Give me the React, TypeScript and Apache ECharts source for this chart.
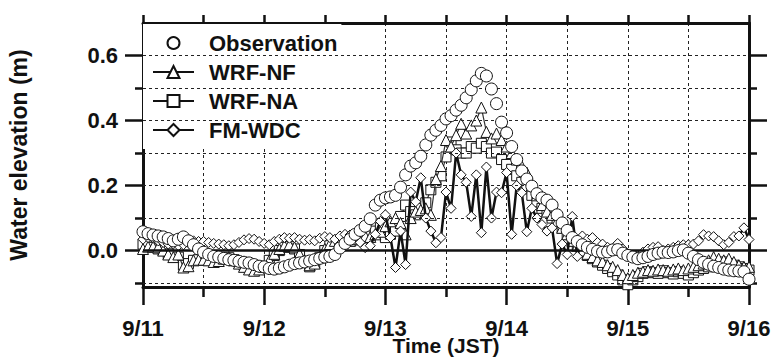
import React, { useEffect, useRef } from "react";
import * as echarts from "echarts";

// Hourly values from 9/11 00:00 (hour 0) to 9/16 00:00 (hour 120)
const observation = [
  0.058, 0.052, 0.048, 0.045, 0.042, 0.037, 0.03, 0.035, 0.042, 0.03, 0.018, 0.005,
  -0.005, -0.012, -0.018, -0.02, -0.024, -0.028, -0.03, -0.033, -0.036, -0.038, -0.043, -0.048,
  -0.05, -0.055, -0.057, -0.054, -0.05, -0.045, -0.04, -0.038, -0.035, -0.032, -0.028, -0.024,
  -0.02, -0.018, -0.012, 0.008, 0.022, 0.035, 0.05, 0.062, 0.075, 0.098, 0.14, 0.155,
  0.162, 0.165, 0.17, 0.195, 0.233, 0.26, 0.27, 0.29, 0.325, 0.355, 0.37, 0.385,
  0.405, 0.415, 0.432, 0.447, 0.47, 0.495, 0.522, 0.545, 0.537, 0.497, 0.452, 0.395,
  0.362, 0.32, 0.28, 0.245, 0.22, 0.198, 0.175, 0.162, 0.155, 0.14, 0.11, 0.085,
  0.062, 0.04, 0.028, 0.018, 0.01, 0.004, -0.002, -0.005, -0.004, 0.002, 0.003, -0.008,
  -0.015, -0.02, -0.025, -0.022, -0.018, -0.012, -0.008, -0.005, -0.006, -0.004, 0.0, 0.002,
  -0.008, -0.018, -0.028, -0.036, -0.042, -0.048, -0.052, -0.057, -0.06, -0.062, -0.063, -0.065, -0.088,
];

const wrfNF = [
  0.005, 0.012, 0.012, 0.01, 0.0, -0.012, -0.02, -0.012, -0.052, -0.048, -0.03, -0.028,
  -0.028, -0.03, -0.035, -0.032, -0.025, -0.02, -0.03, -0.04, -0.05, -0.058, -0.062, -0.058,
  -0.05, -0.03, -0.01, 0.005, 0.015, 0.018, 0.01, -0.01, -0.03, -0.045, -0.04, -0.02,
  0.005, 0.02, 0.03, 0.035, 0.03, 0.03, 0.035, 0.04, 0.045, 0.042, 0.05, 0.058,
  0.075, 0.09, 0.1, 0.085, 0.05, 0.1, 0.12, 0.125, 0.13, 0.11, 0.22, 0.26,
  0.34, 0.32, 0.355, 0.39, 0.36, 0.385, 0.4, 0.44, 0.365, 0.345, 0.36, 0.34,
  0.32, 0.3, 0.28, 0.26, 0.24, 0.2, 0.17, 0.14, 0.12, 0.11, 0.09, 0.07,
  0.05, 0.03, 0.015, 0.0, -0.01, -0.02, -0.03, -0.035, -0.045, -0.05, -0.06, -0.075,
  -0.085, -0.075, -0.068, -0.065, -0.06, -0.062, -0.058, -0.06, -0.062, -0.058, -0.055, -0.06,
  -0.055, -0.05, -0.045, -0.04, -0.03, -0.02, -0.025, -0.03, -0.025, -0.035, -0.045, -0.05, -0.05,
];

const wrfNA = [
  0.02, 0.015, 0.01, 0.005, 0.0, -0.01, -0.015, -0.02, -0.045, -0.04, -0.03, -0.028,
  -0.03, -0.03, -0.03, -0.028, -0.025, -0.022, -0.028, -0.035, -0.045, -0.052, -0.058, -0.055,
  -0.048, -0.03, -0.015, 0.0, 0.01, 0.012, 0.005, -0.012, -0.035, -0.05, -0.04, -0.022,
  0.0, 0.015, 0.025, 0.03, 0.028, 0.03, 0.033, 0.038, 0.04, 0.045, 0.06, 0.07,
  0.04, 0.05, 0.06, 0.105, 0.14, 0.12, 0.11, 0.13, 0.147, 0.187, 0.21, 0.23,
  0.288, 0.334, 0.31, 0.3, 0.3, 0.32, 0.315, 0.33, 0.32, 0.3, 0.303, 0.28,
  0.265, 0.25, 0.23, 0.21, 0.19, 0.17, 0.15, 0.13, 0.12, 0.1, 0.09, 0.07,
  0.05, 0.03, 0.015, 0.0, -0.015, -0.025, -0.035, -0.045, -0.055, -0.065, -0.075, -0.09,
  -0.105, -0.09, -0.08, -0.07, -0.065, -0.068, -0.07, -0.062, -0.068, -0.072, -0.065, -0.07,
  -0.075, -0.068, -0.06, -0.055, -0.05, -0.045, -0.04, -0.035, -0.04, -0.045, -0.05, -0.055, -0.06,
];

const fmWDC = [
  0.035, 0.04, 0.038, 0.03, 0.025, 0.02, 0.02, 0.015, 0.018, 0.025, 0.03, 0.028,
  0.028, 0.025, 0.022, 0.02, 0.018, 0.015, 0.018, 0.025, 0.033, 0.037, 0.035, 0.028,
  0.022, 0.018, 0.028, 0.035, 0.04, 0.038, 0.04, 0.035, 0.032, 0.034, 0.03, 0.038,
  0.043, 0.04, 0.035, 0.045, 0.05, 0.048, 0.04, 0.025, 0.009, 0.015, 0.05, 0.09,
  0.11, 0.04, -0.052, 0.06, -0.043, 0.18, 0.15, 0.224, 0.1, 0.06, 0.024, 0.04,
  0.18, 0.13, 0.3, 0.233, 0.21, 0.105, 0.233, 0.055, 0.257, 0.1, 0.18, 0.178,
  0.24, 0.05, 0.2, 0.178, 0.058, 0.13, 0.1, 0.08, 0.06, 0.07, -0.04, 0.02,
  -0.012, 0.105, -0.018, 0.045, 0.035, 0.04, 0.025, 0.02, 0.01, 0.0, 0.022, 0.005,
  -0.01, -0.02, -0.015, -0.005, 0.005, 0.01, 0.012, 0.0, 0.005, 0.01, 0.015, 0.018,
  0.018, 0.02, 0.03, 0.049, 0.045, 0.043, 0.03, 0.018, 0.025, 0.043, 0.045, 0.07, 0.034,
];

const dayLabels = ["9/11", "9/12", "9/13", "9/14", "9/15", "9/16"];
const yMajorTicks = [0, 0.2, 0.4, 0.6];
const yMinorTicks = [-0.1, 0.1, 0.3, 0.5];
const yGridLines = [-0.1, 0.1, 0.2, 0.3, 0.4, 0.5, 0.6];

const INK = "#111";
const FONT = "Liberation Sans, Arial, Helvetica, sans-serif";
const Y_MIN = -0.112;
const Y_MAX = 0.7;

const toPairs = (vals: number[]) => vals.map((v, i) => [i, v]);

export default function App() {
  const ref = useRef<HTMLDivElement>(null);

  useEffect(() => {
    if (!ref.current) return;
    const chart = echarts.init(ref.current, null, { renderer: "svg" });

    const dashed = { color: "#222", width: 1, type: [3, 3] as number[] };
    const textBase = { fontFamily: FONT, fontWeight: "bold" as const, fontSize: 22, color: INK };
    const symStyle = { color: "#fff", borderColor: INK, borderWidth: 1 };

    const yCommon = {
      type: "value" as const,
      min: Y_MIN,
      max: Y_MAX,
      splitLine: { show: false },
    };

    const option: any = {
      animation: false,
      backgroundColor: "#fff",
      grid: {
        left: 143,
        right: 26,
        top: 23,
        bottom: 73,
        containLabel: false,
        outerBoundsMode: "none",
      },
      legend: {
        data: [
          { name: "Observation", lineStyle: { width: 0, opacity: 0 } },
          { name: "WRF-NF", lineStyle: { width: 2, color: INK } },
          { name: "WRF-NA", lineStyle: { width: 2, color: INK } },
          { name: "FM-WDC", lineStyle: { width: 2, color: INK } },
        ],
        orient: "vertical",
        left: 143,
        top: 24,
        padding: [8, 4, 8, 9],
        itemGap: 7,
        itemWidth: 41,
        itemHeight: 15,
        backgroundColor: "#fff",
        selectedMode: false,
        textStyle: { ...textBase, lineHeight: 22, padding: [0, 0, 0, 10] },
      },
      xAxis: [
        {
          type: "value",
          position: "bottom",
          min: 0,
          max: 120,
          interval: 24,
          axisLine: { show: true, onZero: false, lineStyle: { color: INK, width: 3 } },
          axisTick: { show: true, inside: false, length: 18, lineStyle: { color: INK, width: 2.5 } },
          minorTick: { show: true, splitNumber: 2, length: 10, lineStyle: { color: INK, width: 2.5 } },
          axisLabel: {
            ...textBase,
            margin: 30,
            formatter: (v: number) => dayLabels[Math.round(v / 24)] ?? "",
          },
          splitLine: { show: true, lineStyle: dashed },
          minorSplitLine: { show: true, lineStyle: dashed },
          name: "Time (JST)",
          nameLocation: "middle",
          nameGap: 48,
          nameMoveOverlap: false,
          nameTextStyle: { ...textBase, fontSize: 21, verticalAlign: "top", lineHeight: 21 },
        },
        {
          type: "value",
          position: "top",
          min: 0,
          max: 120,
          interval: 12,
          axisLine: { show: true, onZero: false, lineStyle: { color: INK, width: 3 } },
          axisTick: { show: true, inside: false, length: 8, lineStyle: { color: INK, width: 2.5 } },
          axisLabel: { show: false },
          splitLine: { show: false },
        },
      ],
      yAxis: [
        {
          ...yCommon,
          position: "left",
          axisLine: { show: true, onZero: false, lineStyle: { color: INK, width: 3 } },
          axisTick: { show: true, inside: false, length: 18, customValues: yMajorTicks, lineStyle: { color: INK, width: 2.5 } },
          axisLabel: {
            ...textBase,
            margin: 25,
            customValues: yMajorTicks,
            formatter: (v: number) => v.toFixed(1),
          },
          name: "Water elevation (m)",
          nameLocation: "middle",
          nameGap: 113,
          nameRotate: 90,
          nameMoveOverlap: false,
          nameTextStyle: { ...textBase, fontSize: 23 },
        },
        {
          ...yCommon,
          position: "left",
          axisLine: { show: false, onZero: false },
          axisTick: { show: true, inside: false, length: 8, customValues: yMinorTicks, lineStyle: { color: INK, width: 2.5 } },
          axisLabel: { show: false },
        },
        {
          ...yCommon,
          position: "right",
          axisLine: { show: true, onZero: false, lineStyle: { color: INK, width: 3 } },
          axisTick: { show: true, inside: false, length: 18, customValues: yMajorTicks, lineStyle: { color: INK, width: 2.5 } },
          axisLabel: { show: false },
        },
        {
          ...yCommon,
          position: "right",
          axisLine: { show: false, onZero: false },
          axisTick: { show: true, inside: false, length: 8, customValues: yMinorTicks, lineStyle: { color: INK, width: 2.5 } },
          axisLabel: { show: false },
        },
      ],
      series: [
        {
          name: "gridlines",
          type: "line",
          data: [],
          silent: true,
          z: 1,
          markLine: {
            silent: true,
            symbol: "none",
            label: { show: false },
            animation: false,
            data: [
              ...yGridLines.map((v) => ({ yAxis: v, lineStyle: dashed })),
              { yAxis: 0, lineStyle: { color: INK, width: 2.5, type: "solid" } },
            ],
          },
        },
        {
          name: "WRF-NA",
          type: "line",
          data: toPairs(wrfNA),
          symbol: "rect",
          symbolSize: 10,
          showAllSymbol: true,
          itemStyle: symStyle,
          lineStyle: { color: "#333", width: 1.2 },
          z: 2,
        },
        {
          name: "WRF-NF",
          type: "line",
          data: toPairs(wrfNF),
          symbol: "triangle",
          symbolSize: 11,
          showAllSymbol: true,
          itemStyle: symStyle,
          lineStyle: { color: "#333", width: 1.2 },
          z: 3,
        },
        {
          name: "FM-WDC",
          type: "line",
          data: toPairs(fmWDC),
          symbol: "diamond",
          symbolSize: 10,
          showAllSymbol: true,
          itemStyle: symStyle,
          lineStyle: { color: INK, width: 2.5 },
          z: 4,
        },
        {
          name: "Observation",
          type: "line",
          data: toPairs(observation),
          symbol: "circle",
          symbolSize: 12,
          showAllSymbol: true,
          itemStyle: symStyle,
          lineStyle: { width: 0, opacity: 0 },
          z: 5,
        },
      ],
    };

    chart.setOption(option);
    return () => chart.dispose();
  }, []);

  return (
    <div
      ref={ref}
      style={{ position: "fixed", left: 0, top: 0, width: 775, height: 360, background: "#fff" }}
    />
  );
}
